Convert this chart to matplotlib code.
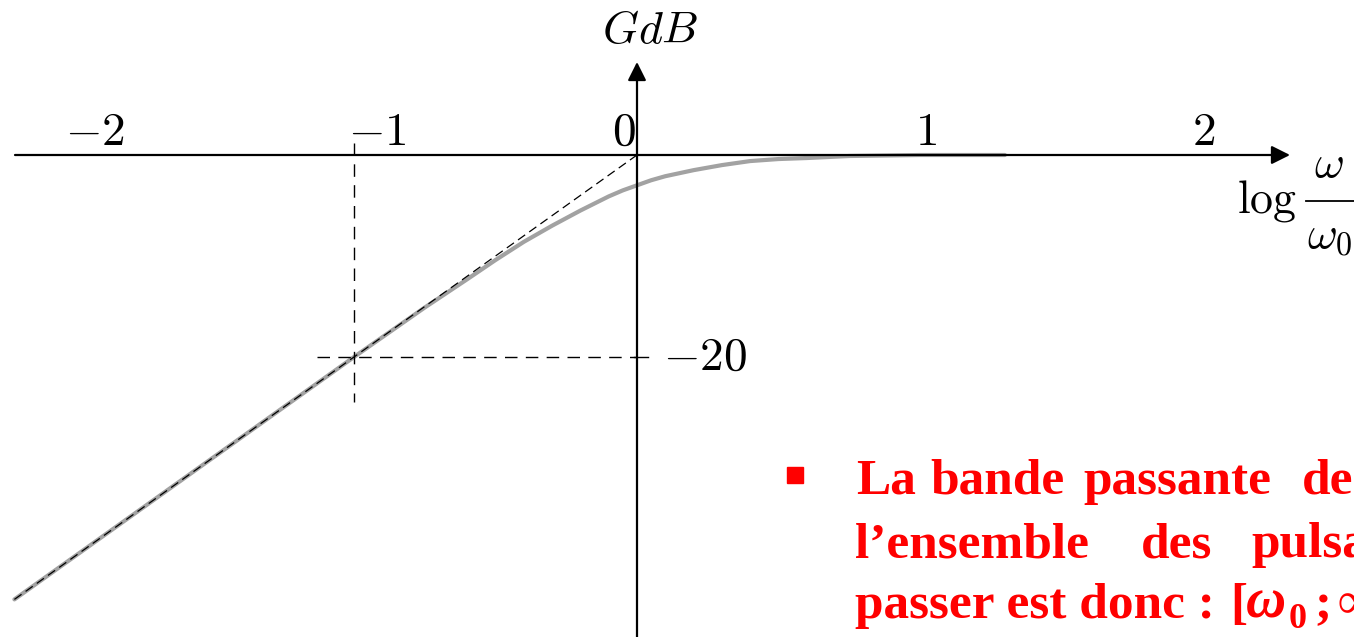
import numpy as np
import matplotlib.pyplot as plt
from matplotlib.patches import Rectangle

plt.rcParams["mathtext.fontset"] = "cm"

# gain du filtre passe-haut du 1er ordre
log_w = [-2.2, -2.0, -1.5, -1.25, -1.0, -0.75, -0.6, -0.5, -0.4, -0.3, -0.2,
         -0.15, -0.1, -0.05, 0.0, 0.05, 0.1, 0.15, 0.2, 0.3, 0.4, 0.5, 0.6,
         0.75, 1.0, 1.3]
gain_db = [-44.0, -40.0, -30.0, -25.0, -20.0, -15.1, -12.3, -10.4, -8.6, -7.0,
           -5.5, -4.8, -4.1, -3.5, -3.0, -2.5, -2.1, -1.8, -1.5, -1.0, -0.6,
           -0.4, -0.3, -0.1, 0.0, 0.0]

# asymptote 20 dB/décade
asym_x = [-2.2, 0.0]
asym_y = [-44.0, 0.0]

x_ticks = [-2, -1, 0, 1, 2]
x_tick_labels = [r"$-2$", r"$-1$", r"$0$", r"$1$", r"$2$"]
g_cut = -20

def px(x, y):
    # pixels (origine en haut à gauche) -> coordonnées du repère
    return (x - 637) / 283, (155 - y) / 10.1

fig = plt.figure(figsize=(13.54, 6.37), dpi=100)
ax = fig.add_axes([0, 0, 1, 1])
ax.set_xlim(-637 / 283, (1354 - 637) / 283)
ax.set_ylim((155 - 637) / 10.1, 155 / 10.1)
ax.axis("off")

# axes avec flèches
ax.annotate("", xy=px(1290, 155), xytext=px(15, 155),
            arrowprops=dict(arrowstyle="-|>", color="black", lw=1.6,
                            mutation_scale=28, shrinkA=0, shrinkB=0))
ax.annotate("", xy=px(637, 62), xytext=px(637, 640),
            arrowprops=dict(arrowstyle="-|>", color="black", lw=1.6,
                            mutation_scale=28, shrinkA=0, shrinkB=0))

# courbe réelle et asymptote
ax.plot(log_w, gain_db, color="#a2a2a2", lw=3.0, solid_capstyle="round")
ax.plot(asym_x, asym_y, color="black", lw=0.9, dashes=(7, 4))

# repères à -20 dB
ax.plot([-1.0, -1.0], [1.2, -24.5], color="black", lw=1.0, dashes=(9, 6))
ax.plot([-1.13, 0.0], [g_cut, g_cut], color="black", lw=1.0, dashes=(9, 6))
ax.plot([-0.01, 0.04], [g_cut, g_cut], color="black", lw=1.0)

label_x = [95, 377, 624, 926, 1204]
for lx, lab in zip(label_x, x_tick_labels):
    x, y = px(lx, 145)
    ax.text(x, y, lab, fontsize=34, ha="center", va="baseline")
ax.text(*px(705, 357), r"$-20$", fontsize=34, ha="center", va="center")
ax.text(*px(650, 31), r"$GdB$", fontsize=33, ha="center", va="center")

# log(w/w0) : fraction construite à la main
ax.text(*px(1237, 212), r"$\log$", fontsize=33, ha="left", va="baseline")
ax.text(*px(1329, 177), r"$\omega$", fontsize=33, ha="center", va="baseline")
ax.text(*px(1307, 248), r"$\omega_0$", fontsize=33, ha="left", va="baseline")
bx0, by = px(1306, 201)
bx1, _ = px(1360, 201)
ax.plot([bx0, bx1], [by, by], color="black", lw=1.3)

# texte en rouge
red = "#ff0000"
fig.patches.append(Rectangle((787 / 1354, 1 - 483 / 637), 16 / 1354, 16 / 637,
                             transform=fig.transFigure, color=red))
font = dict(family="Liberation Serif", weight="bold", color=red, fontsize=37)

def word(x, y, s, **kw):
    opts = dict(font)
    opts.update(kw)
    fig.text(x / 1354, 1 - y / 637, s, va="baseline", **opts)

for x, s in [(856, "La"), (930, "bande"), (1083, "passante"), (1302, "de")]:
    word(x, 494, s)
for x, s in [(855, "l\u2019ensemble"), (1141, "des"), (1251, "pulsations")]:
    word(x, 557, s)
word(855, 618, "passer est donc :")
word(1230, 618, "[")
word(1246, 618, "\u03c9", style="italic", fontsize=40)
word(1289, 628, "0", fontsize=26)
word(1314, 618, ";")
word(1338, 618, "\u221e[")

fig.savefig("out.png", dpi=100)
